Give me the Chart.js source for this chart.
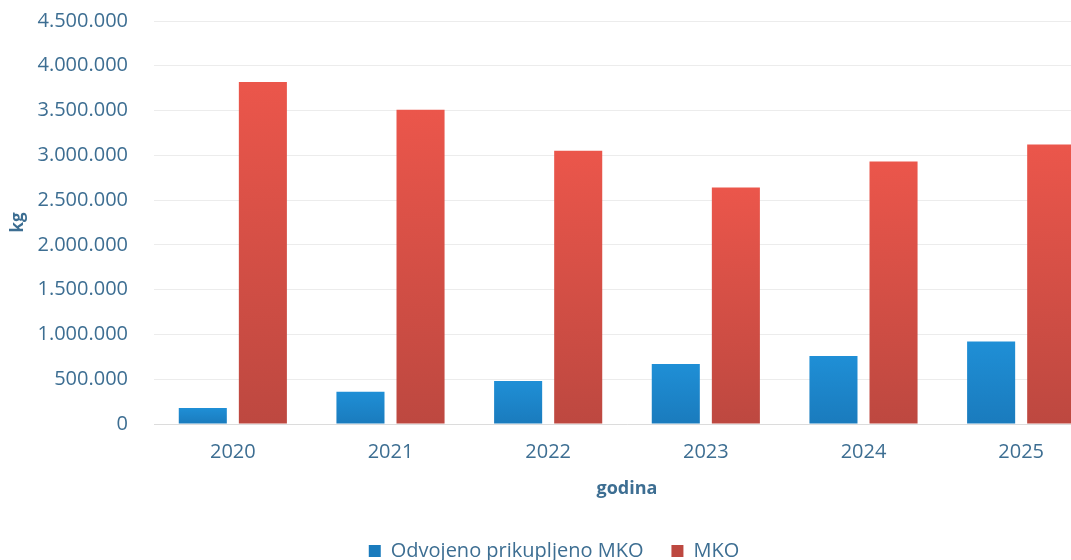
<!DOCTYPE html>
<html>
<head>
<meta charset="utf-8">
<script src="https://cdn.jsdelivr.net/npm/chart.js@4"></script>
<style>
  html, body { margin: 0; padding: 0; background: #fff; overflow: hidden; }
  #wrap { width: 1100px; height: 590px; margin-top: -17px; }
</style>
</head>
<body>
<div id="wrap"><canvas id="chart" width="1100" height="590"></canvas></div>
<script>
// Years on the x axis
const years = ['2020', '2021', '2022', '2023', '2024', '2025']
// Separately collected municipal waste (kg)
const odvojeno = [180000, 360000, 480000, 670000, 760000, 920000]
// Mixed municipal waste (kg)
const mko = [3820000, 3510000, 3050000, 2640000, 2930000, 3120000]

const textColor = '#3d6e92'
const font = "'Open Sans', 'Noto Sans', sans-serif"

// Format with dots as thousand separators
function fmt(v) {
    return String(v).replace(/\B(?=(\d{3})+(?!\d))/g, '.')
}

// Vertical gradient per bar, from the bar top to the baseline
function barGradient(top, bottom) {
    return function (ctx) {
        const chart = ctx.chart
        if (!chart.chartArea || ctx.parsed === undefined) return top
        const y = chart.scales.y
        const y0 = y.getPixelForValue(ctx.parsed.y)
        const y1 = y.getPixelForValue(0)
        if (!isFinite(y0) || y1 - y0 < 1) return top
        const g = chart.ctx.createLinearGradient(0, y0, 0, y1)
        g.addColorStop(0, top)
        g.addColorStop(1, bottom)
        return g
    }
}

new Chart(document.getElementById('chart'), {
    type: 'bar',
    data: {
        labels: years,
        datasets: [
            {
                label: 'Odvojeno prikupljeno MKO',
                data: odvojeno,
                backgroundColor: barGradient('#1f8fd6', '#1a7bbd'),
                borderWidth: 0
            },
            {
                label: 'MKO',
                data: mko,
                backgroundColor: barGradient('#eb564b', '#bd4840'),
                borderWidth: 0
            }
        ]
    },
    options: {
        responsive: false,
        animation: false,
        datasets: {
            bar: { barPercentage: 0.8, categoryPercentage: 0.762 }
        },
        layout: { padding: { left: 8, right: 0, top: 0, bottom: 2 } },
        plugins: {
            tooltip: { enabled: false },
            legend: {
                position: 'bottom',
                labels: {
                    color: textColor,
                    font: { family: font, size: 20 },
                    boxWidth: 12,
                    boxHeight: 12,
                    padding: 28
                }
            }
        },
        scales: {
            x: {
                grid: { display: false, drawTicks: false },
                border: { color: '#dcdcdc' },
                ticks: {
                    color: textColor,
                    font: { family: font, size: 20 },
                    padding: 16
                },
                title: {
                    display: true,
                    text: 'godina',
                    color: textColor,
                    font: { family: font, size: 18, weight: 'bold', lineHeight: 1.0 },
                    padding: { top: 0, bottom: 15 }
                }
            },
            y: {
                min: 0,
                max: 4500000,
                afterFit: scale => { scale.width = 146 },
                ticks: {
                    stepSize: 500000,
                    color: textColor,
                    font: { family: font, size: 20 },
                    padding: 26,
                    callback: v => fmt(v)
                },
                grid: { color: '#ececec', drawTicks: false },
                border: { display: false },
                title: {
                    display: true,
                    text: 'kg',
                    color: textColor,
                    font: { family: font, size: 17, weight: 'bold' },
                    padding: { top: 0, bottom: 13 }
                }
            }
        }
    }
})
</script>
</body>
</html>
